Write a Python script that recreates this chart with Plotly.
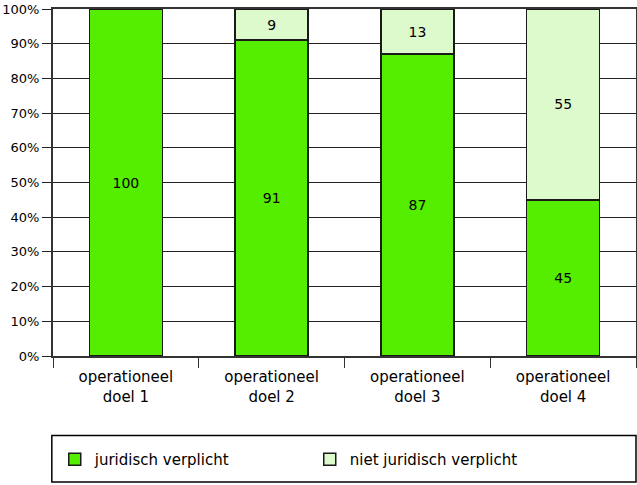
import plotly.graph_objects as go

categories = ["operationeel<br>doel 1", "operationeel<br>doel 2", "operationeel<br>doel 3", "operationeel<br>doel 4"]
juridisch = [100, 91, 87, 45]
niet_juridisch = [0, 9, 13, 55]
y_ticks = list(range(0, 101, 10))
y_labels = [f"{v}%" for v in y_ticks]

fig = go.Figure()
fig.add_trace(go.Bar(
    x=categories, y=juridisch, name="juridisch verplicht",
    marker=dict(color="#55EE00", line=dict(color="#1a1a1a", width=1.5)),
    text=[str(v) for v in juridisch], textposition="inside", insidetextanchor="middle",
    textfont=dict(size=14, color="black"), width=0.5,
))
fig.add_trace(go.Bar(
    x=categories, y=niet_juridisch, name="niet juridisch verplicht",
    marker=dict(color="#DDFACC", line=dict(color="#1a1a1a", width=1.5)),
    text=[str(v) if v else "" for v in niet_juridisch], textposition="inside", insidetextanchor="middle",
    textfont=dict(size=14, color="black"), width=0.5,
))

fig.update_layout(
    barmode="stack",
    width=637, height=485,
    margin=dict(l=53, r=1, t=9, b=129),
    paper_bgcolor="white", plot_bgcolor="white",
    font=dict(family="DejaVu Sans, sans-serif", size=14, color="black"),
    uniformtext=dict(minsize=14, mode="show"),
    showlegend=True,
    legend=dict(orientation="h", x=0.003, xanchor="left", y=-0.298, yanchor="middle",
                entrywidth=210, font=dict(size=15), traceorder="normal",
                bgcolor="rgba(0,0,0,0)"),
    xaxis=dict(showgrid=False, ticks="outside", ticklen=10, tickson="boundaries",
               tickcolor="#333", showline=True, linecolor="#333", linewidth=2, mirror=True,
               tickfont=dict(size=15), ticklabelstandoff=6, automargin=False),
    yaxis=dict(range=[0, 100], tickvals=y_ticks, ticktext=y_labels, showgrid=True,
               gridcolor="#222", gridwidth=1, ticks="outside", ticklen=9, tickcolor="#222",
               showline=True, linecolor="#333", linewidth=2, mirror=True,
               tickfont=dict(size=13), zeroline=False, ticklabeloverflow="allow",
               automargin=False),
    shapes=[dict(type="rect", xref="paper", yref="paper", x0=-0.002, x1=1.0,
                 y0=-0.363, y1=-0.229, line=dict(color="black", width=1.5))],
)

fig.write_html("out.html")
